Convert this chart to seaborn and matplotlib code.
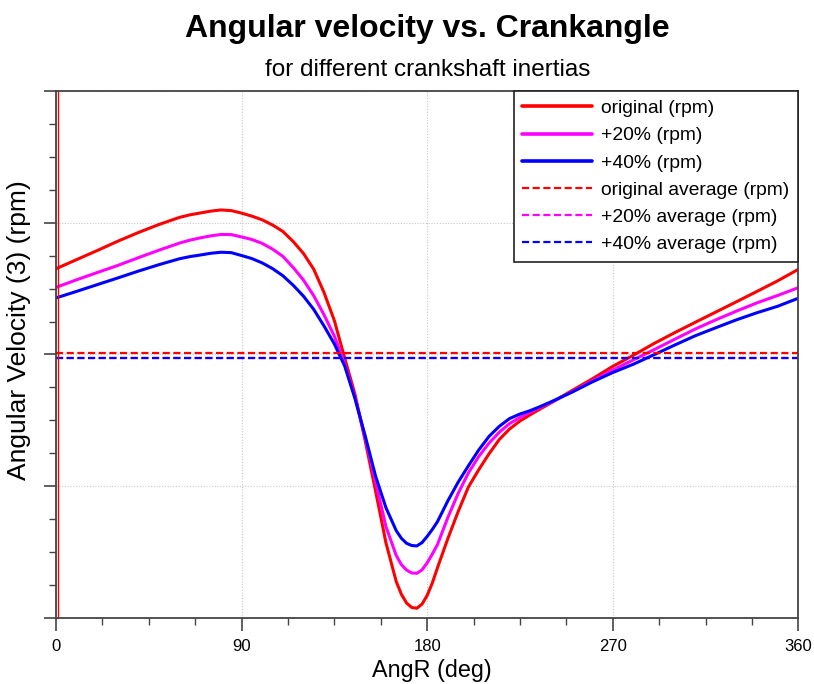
import numpy as np
import pandas as pd
import seaborn as sns
import matplotlib.pyplot as plt
from matplotlib.lines import Line2D
from matplotlib.ticker import MultipleLocator, NullFormatter

# Crank angle (deg) and angular velocity (rpm) for three crankshaft inertias
angle = [0, 10, 20, 30, 40, 50, 60,
         65, 70, 75, 80, 85, 90, 95, 100, 105, 110, 115,
         120, 125, 130, 135, 140, 145, 150, 155, 160, 165,
         167.5, 170, 172.5, 175, 177.5, 180, 182.5, 185,
         190, 195, 200, 205, 210, 215, 220, 225, 230, 235, 240,
         250, 260, 270, 280, 290, 300, 310, 320, 330, 340, 350, 360]

rpm_original = [2065.1, 2072.0, 2078.9, 2086.0, 2092.6, 2098.7, 2104.1,
                2106.0, 2107.4, 2108.8, 2109.7, 2109.2, 2107.3, 2105.0, 2102.2, 2098.3, 2093.4, 2085.8,
                2076.7, 2064.7, 2047.0, 2025.7, 1997.3, 1969.8, 1934.2, 1896.3, 1857.2, 1827.7,
                1818.0, 1811.4, 1808.0, 1807.4, 1810.5, 1817.1, 1826.5, 1838.1,
                1860.1, 1880.6, 1899.4, 1912.5, 1924.6, 1935.5, 1943.5, 1949.5, 1954.3, 1958.8, 1963.2,
                1972.4, 1981.4, 1991.0, 1999.4, 2008.3, 2016.5, 2024.4, 2032.2, 2040.0, 2047.9, 2055.9, 2064.6]

rpm_plus20 = [2050.9, 2056.7, 2062.2, 2067.6, 2073.5, 2079.2, 2084.6,
              2086.8, 2088.5, 2090.0, 2091.1, 2091.0, 2089.2, 2087.3, 2084.3, 2080.0, 2074.5, 2066.1,
              2056.5, 2044.6, 2030.1, 2013.9, 1992.8, 1967.5, 1936.6, 1903.4, 1869.5, 1847.5,
              1840.5, 1836.4, 1834.2, 1833.9, 1836.5, 1841.8, 1848.5, 1855.7,
              1876.1, 1894.4, 1910.1, 1922.5, 1932.7, 1941.0, 1947.6, 1952.2, 1956.3, 1960.0, 1963.6,
              1971.5, 1979.9, 1988.2, 1995.9, 2003.6, 2011.5, 2019.3, 2026.3, 2032.9, 2039.2, 2044.8, 2050.7]

rpm_plus40 = [2042.9, 2047.9, 2053.0, 2058.1, 2063.3, 2068.2, 2072.7,
              2074.3, 2075.5, 2076.8, 2077.6, 2077.3, 2075.1, 2072.8, 2069.5, 2065.2, 2059.8, 2052.6,
              2044.3, 2034.2, 2021.6, 2008.0, 1991.3, 1966.5, 1937.9, 1907.6, 1883.8, 1866.3,
              1860.5, 1856.7, 1855.0, 1854.7, 1857.2, 1861.9, 1867.2, 1873.1,
              1888.8, 1903.0, 1915.5, 1927.5, 1937.8, 1945.5, 1951.4, 1954.8, 1957.4, 1960.6, 1964.0,
              1971.2, 1979.1, 1986.3, 1992.6, 1999.8, 2007.1, 2014.2, 2020.3, 2026.3, 2031.7, 2036.6, 2042.7]

avg_original = 2000.9
avg_plus20 = 1997.6
avg_plus40 = 1997.1

cursor_angle = 1.0

series_labels = ["original (rpm)", "+20% (rpm)", "+40% (rpm)"]
avg_labels = ["original average (rpm)", "+20% average (rpm)", "+40% average (rpm)"]
colors = ["#ff0000", "#ff00ff", "#0000ff"]

n = len(angle)
df = pd.DataFrame({
    "AngR": angle * 3,
    "rpm": rpm_original + rpm_plus20 + rpm_plus40,
    "case": [series_labels[0]] * n + [series_labels[1]] * n + [series_labels[2]] * n,
})

sns.set_theme(style="white")
plt.rcParams["font.family"] = ["Liberation Sans", "DejaVu Sans"]
plt.rcParams["text.color"] = "black"
plt.rcParams["axes.labelcolor"] = "black"
plt.rcParams["xtick.color"] = "black"
plt.rcParams["ytick.color"] = "black"

fig = plt.figure(figsize=(8.14, 6.84), dpi=100)
ax = fig.add_axes([0.0688, 0.0965, 0.9119, 0.7705])

spine_col = "#444444"
for s in ax.spines.values():
    s.set_color(spine_col)
    s.set_linewidth(1.3)

ax.set_xlim(0, 360)
ax.set_ylim(1800, 2200)

ax.grid(True, which="major", color="#c8c8c8", linestyle=(0, (1, 1.5)), linewidth=0.8)

sns.lineplot(data=df, x="AngR", y="rpm", hue="case", palette=colors,
             hue_order=series_labels, linewidth=2.2, ax=ax, legend=False,
             estimator=None, sort=False)
for ln in ax.get_lines():
    ln.set_solid_joinstyle("round")

dash = (0, (3.2, 1.6))
for val, col, lab in zip([avg_original, avg_plus20, avg_plus40], colors, avg_labels):
    ax.axhline(val, color=col, linestyle=dash, linewidth=1.6, label=lab)

ax.axvline(cursor_angle, color="#ff0000", linewidth=1.0, clip_on=False)

ax.xaxis.set_major_locator(MultipleLocator(90))
ax.xaxis.set_minor_locator(MultipleLocator(22.5))
ax.yaxis.set_major_locator(MultipleLocator(100))
ax.yaxis.set_minor_locator(MultipleLocator(25))
ax.yaxis.set_major_formatter(NullFormatter())
ax.tick_params(axis="both", which="major", direction="out", length=9, width=1.2,
               color=spine_col, labelcolor="black", labelsize=12, pad=6,
               bottom=True, left=True)
ax.tick_params(axis="both", which="minor", direction="out", length=5, width=1.0,
               color=spine_col, bottom=True, left=True)
ax.set_xticks([0, 90, 180, 270, 360])
ax.set_xticklabels(["0", "90", "180", "270", "360"])

ax.set_xlabel("AngR (deg)", fontsize=16.8)
ax.set_ylabel("Angular Velocity (3) (rpm)", fontsize=19)
ax.xaxis.set_label_coords(0.507, -0.078)
ax.yaxis.set_label_coords(-0.034, 0.546)

handles = [Line2D([], [], color=c, linewidth=2.6) for c in colors]
handles += [Line2D([], [], color=c, linewidth=1.6, linestyle=dash) for c in colors]
leg = ax.legend(handles, series_labels + avg_labels, loc="upper right",
                bbox_to_anchor=(1.0, 1.0), borderaxespad=0, frameon=True,
                fancybox=False, edgecolor="#222222", fontsize=13.9,
                handlelength=3.6, labelspacing=0.5, borderpad=0.45,
                handletextpad=0.5)
leg.get_frame().set_linewidth(1.2)
leg.get_frame().set_alpha(1.0)

fig.text(0.525, 0.958, "Angular velocity vs. Crankangle", ha="center", va="center",
         fontsize=23, fontweight="bold")
fig.text(0.525, 0.897, "for different crankshaft inertias", ha="center", va="center",
         fontsize=17.5)

fig.savefig("out.png", dpi=100)
